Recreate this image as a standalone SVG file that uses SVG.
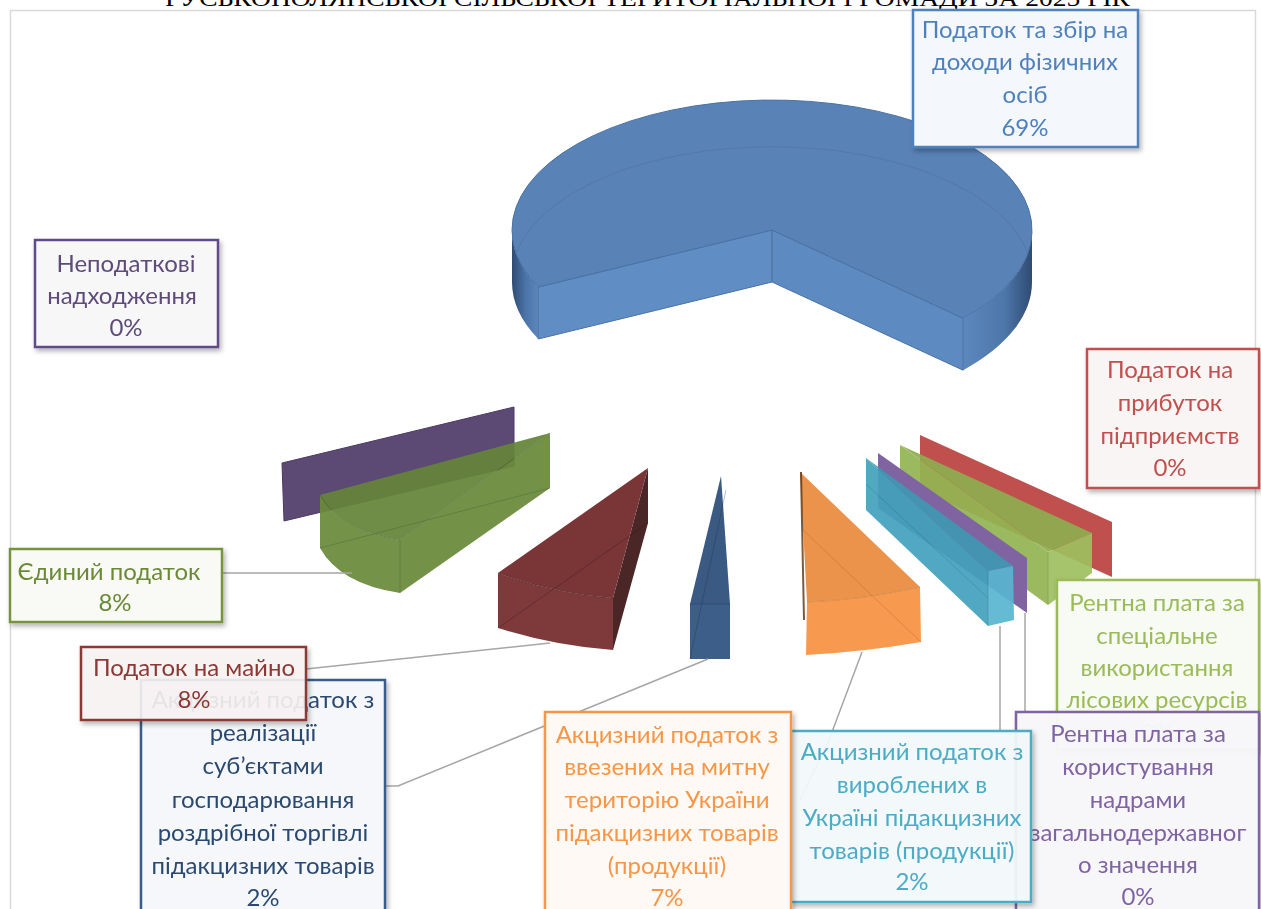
<svg xmlns="http://www.w3.org/2000/svg" width="1261" height="909" viewBox="0 0 1261 909">
<defs>
<style>
.lbl{font-family:Lato,"Noto Sans",sans-serif;font-size:24px;text-anchor:middle}
.box{stroke-width:2.5}
.con{fill:none;stroke:#a6a6a6;stroke-width:1.5}
.edge{fill:none;stroke-width:1;stroke-opacity:0.3}
</style>
<filter id="sh" x="-10%" y="-10%" width="130%" height="130%">
<feDropShadow dx="2" dy="3" stdDeviation="2.5" flood-color="#000" flood-opacity="0.3"/>
</filter>
<linearGradient id="wallL" x1="0" y1="0" x2="1" y2="0">
<stop offset="0" stop-color="#2f4b72"/><stop offset="0.5" stop-color="#4a73a6"/><stop offset="1" stop-color="#5c88bf"/>
</linearGradient>
<linearGradient id="wallR" x1="0" y1="0" x2="1" y2="0">
<stop offset="0" stop-color="#5c88bf"/><stop offset="0.6" stop-color="#4d77aa"/><stop offset="1" stop-color="#2f4b72"/>
</linearGradient>
</defs>
<rect width="1261" height="909" fill="#fff"/>
<text x="165" y="5.5" font-family="Liberation Serif,serif" font-size="24" textLength="965" lengthAdjust="spacingAndGlyphs" fill="#000">РУСЬКОПОЛЯНСЬКОЇ СІЛЬСЬКОЇ ТЕРИТОРІАЛЬНОЇ ГРОМАДИ ЗА 2025 РІК</text>
<rect x="10.5" y="10.5" width="1245" height="920" fill="none" stroke="#d9d9d9" stroke-width="1.5"/>

<g id="slice-pdfo">
<path d="M538.3,287 A260 130 0 0 1 512,230 L512,282 A260 130 0 0 0 538.3,339 Z" fill="url(#wallL)"/>
<path d="M1032,230 A260 130 0 0 1 963.1,318.2 L963.1,370.2 A260 130 0 0 0 1032,282 Z" fill="url(#wallR)"/>
<path d="M772,230 L538.3,287 L538.3,339 L772,282 Z" fill="#5f8dc4" stroke="#4a72a4" stroke-width="1"/>
<path d="M772,230 L963.1,318.2 L963.1,370.2 L772,282 Z" fill="#5d8ac0" stroke="#4a72a4" stroke-width="1"/>
<path d="M772,230 L538.3,287 A260 130 0 1 1 963.1,318.2 Z" fill="#5982b7" stroke="#4a72a4" stroke-width="1"/>
<path d="M516,254 A260 130 0 0 1 1028,254" fill="none" stroke="#4a6f9f" stroke-width="1" stroke-opacity="0.5"/>
</g>

<g id="slice-rent-plate-red">
<polygon points="920,435 1112,522 1112,577 920,490" fill="#c0504d"/>
</g>
<g id="slice-rent-forest" opacity="0.92">
<polygon points="900,445 1048,552 1048,605 900,498" fill="#93b552"/>
<polygon points="900,445 1092,533 1048,552" fill="#8fae50"/>
<polygon points="1048,552 1092,533 1092,573 1048,605" fill="#9fc060"/>
<path class="edge" stroke="#4d6a22" d="M1048,552 L1048,605"/>
</g>
<g id="slice-rent-nadra">
<polygon points="878,453 1027,558 1027,613 878,508" fill="#8064a2"/>
</g>
<g id="slice-akc-vyrob" opacity="0.92">
<polygon points="866,458 988,571 988,626 866,510" fill="#43a1bd"/>
<polygon points="866,458 1013,566 988,571" fill="#3f98b2"/>
<polygon points="988,571 1013,566 1014,620 988,626" fill="#58b6d0"/>
<path class="edge" stroke="#1e5f73" d="M866,484 L988,598 M988,571 L988,626"/>
</g>

<g id="slice-neopod">
<polygon points="282,463 514,407 514,466 284,521" fill="#5c4a74" stroke="#4a3a60" stroke-width="1"/>
</g>
<g id="slice-yedynyi" opacity="0.93">
<path d="M320,495 Q340,531 400,540 L400,593 Q340,584 320,548 Z" fill="#6b8b3b"/>
<path d="M400,540 L550,433 L550,488 L400,593 Z" fill="#6a8a3a"/>
<path d="M550,433 L320,495 Q340,531 400,540 Z" fill="#66853a"/>
<path class="edge" stroke="#2f4417" d="M320,548 L550,488 M320,495 Q340,531 400,540 L550,433 M400,540 L400,593"/>
</g>
<g id="slice-mayno">
<path d="M498,573 Q555,594 613,598 L613,650 Q555,646 498,628 Z" fill="#7e3a3a"/>
<path d="M613,598 L648,468 L648,523 L613,650 Z" fill="#4b2626"/>
<path d="M648,468 L498,573 Q555,594 613,598 Z" fill="#7a3636"/>
<path class="edge" stroke="#2a1010" d="M498,628 L648,523 M498,573 Q555,594 613,598"/>
</g>
<g id="slice-akc-rozdrib">
<polygon points="690,604 730,604 730,659 690,659" fill="#3d5e89"/>
<polygon points="721,476 690,604 730,604" fill="#3a5a84"/>
<path class="edge" stroke="#1a2c45" d="M690,659 L726,490 M690,604 L730,604"/>
</g>
<g id="slice-akc-vvez">
<path d="M807,602 Q863,600 920,587 L921,642 Q863,652 806,655 Z" fill="#f79a50"/>
<path d="M800,472 L920,587 Q863,600 807,602 Z" fill="#eb934b"/>
<path d="M800,472 L802,472 L805,620 L803,620 Z" fill="#5a3310" fill-opacity="0.8"/>
<path class="edge" stroke="#9b5516" d="M803,530 L921,642 M807,602 Q863,600 920,587"/>
</g>

<g id="connectors">
<path class="con" d="M222,573 L352,573"/>
<path class="con" d="M306,669 L550,643"/>
<path class="con" d="M385,786 L398,786 L708,659"/>
<path class="con" d="M862,652 L829,740 L800,800"/>
<path class="con" d="M1000,626 L1000,731"/>
<path class="con" d="M1025,613 L1025,712"/>
</g>

<g id="label-pdfo" filter="url(#sh)">
<rect class="box" x="913" y="10" width="225" height="137" fill="#f4f7fb" stroke="#4f81bd"/>
<text class="lbl" fill="#4f81bd"><tspan x="1025" y="38">Податок та збір на</tspan><tspan x="1025" y="70">доходи фізичних</tspan><tspan x="1025" y="103">осіб</tspan><tspan x="1025" y="136">69%</tspan></text>
</g>
<g id="label-neopod" filter="url(#sh)">
<rect class="box" x="35" y="240" width="183" height="107" fill="#f7f7f8" stroke="#5f4b8b"/>
<text class="lbl" fill="#5f4b7a"><tspan x="126" y="272">Неподаткові</tspan><tspan x="122" y="304">надходження</tspan><tspan x="126" y="336">0%</tspan></text>
</g>
<g id="label-prybutok" filter="url(#sh)">
<rect class="box" x="1087" y="349" width="172" height="139" fill="#f9f5f5" stroke="#c0504d"/>
<text class="lbl" fill="#c0504d"><tspan x="1170" y="378">Податок на</tspan><tspan x="1170" y="411">прибуток</tspan><tspan x="1170" y="444">підприємств</tspan><tspan x="1170" y="476">0%</tspan></text>
</g>
<g id="label-yedynyi" filter="url(#sh)">
<rect class="box" x="10" y="549" width="212" height="73" fill="#f9faf6" stroke="#77933c"/>
<text class="lbl" fill="#6b8a36"><tspan x="109" y="580">Єдиний податок</tspan><tspan x="115" y="611">8%</tspan></text>
</g>
<g id="label-akc-rozdrib" filter="url(#sh)">
<rect class="box" x="141" y="680" width="244" height="240" fill="#f5f7fa" stroke="#385d8a"/>
<text class="lbl" fill="#2c4a70"><tspan x="263" y="708">Акцизний податок з</tspan><tspan x="263" y="741">реалізації</tspan><tspan x="263" y="774">суб’єктами</tspan><tspan x="263" y="808">господарювання</tspan><tspan x="263" y="841">роздрібної торгівлі</tspan><tspan x="263" y="874">підакцизних товарів</tspan><tspan x="263" y="906">2%</tspan></text>
</g>
<g id="label-mayno" filter="url(#sh)">
<rect class="box" x="81" y="647" width="225" height="73" fill="#faf6f6" fill-opacity="0.88" stroke="#8c3836"/>
<text class="lbl" fill="#8c3836"><tspan x="194" y="676">Податок на майно</tspan><tspan x="194" y="708">8%</tspan></text>
</g>
<g id="label-rent-forest" filter="url(#sh)">
<rect class="box" x="1057" y="580" width="202" height="170" fill="#f8faf4" stroke="#9bbb59"/>
<text class="lbl" fill="#9bbb59"><tspan x="1157" y="611">Рентна плата за</tspan><tspan x="1157" y="644">спеціальне</tspan><tspan x="1157" y="676">використання</tspan><tspan x="1157" y="708">лісових ресурсів</tspan><tspan x="1157" y="741">0%</tspan></text>
</g>
<g id="label-rent-nadra" filter="url(#sh)">
<rect class="box" x="1016" y="712" width="243" height="210" fill="#f9f8fb" fill-opacity="0.95" stroke="#8064a2"/>
<text class="lbl" fill="#8064a2"><tspan x="1138" y="742">Рентна плата за</tspan><tspan x="1138" y="775">користування</tspan><tspan x="1138" y="808">надрами</tspan><tspan x="1138" y="841">загальнодержавног</tspan><tspan x="1138" y="873">о значення</tspan><tspan x="1138" y="905">0%</tspan></text>
</g>
<g id="label-akc-vyrob" filter="url(#sh)">
<rect class="box" x="791" y="731" width="240" height="171" fill="#f4fafc" fill-opacity="0.93" stroke="#4bacc6"/>
<text class="lbl" fill="#4bacc6"><tspan x="912" y="760">Акцизний податок з</tspan><tspan x="912" y="793">вироблених в</tspan><tspan x="912" y="826">Україні підакцизних</tspan><tspan x="912" y="859">товарів (продукції)</tspan><tspan x="912" y="890">2%</tspan></text>
</g>
<g id="label-akc-vvez" filter="url(#sh)">
<rect class="box" x="545" y="712" width="246" height="210" fill="#fef9f5" stroke="#f79646"/>
<text class="lbl" fill="#f79646"><tspan x="667" y="743">Акцизний податок з</tspan><tspan x="667" y="775">ввезених на митну</tspan><tspan x="667" y="808">територію України</tspan><tspan x="667" y="841">підакцизних товарів</tspan><tspan x="667" y="874">(продукції)</tspan><tspan x="667" y="906">7%</tspan></text>
</g>
</svg>
